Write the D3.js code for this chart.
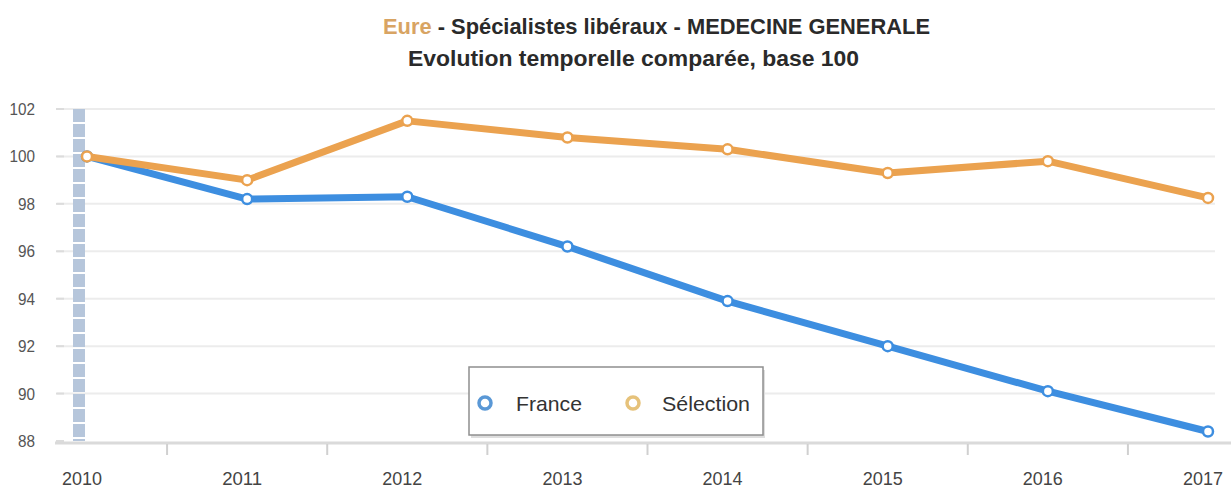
<!DOCTYPE html>
<html><head><meta charset="utf-8">
<script src="https://cdn.jsdelivr.net/npm/d3@7/dist/d3.min.js"></script>
<style>
html,body{margin:0;padding:0;background:#fff;}
svg{display:block;font-family:"Liberation Sans",Arial,sans-serif;}
</style></head>
<body>
<svg id="chart" width="1231" height="495"></svg>
<script>
const years = ["2010","2011","2012","2013","2014","2015","2016","2017"];
const france = [100, 98.2, 98.3, 96.2, 93.9, 92.0, 90.1, 88.4];
const selection = [100, 99.0, 101.5, 100.8, 100.3, 99.3, 99.8, 98.25];
const yTicks = [88, 90, 92, 94, 96, 98, 100, 102];
const seriesNames = ["France", "Sélection"];
const colors = ["#3d8ee0", "#eba24f"];
const titleRegion = "Eure";
const titleRest = " - Spécialistes libéraux - MEDECINE GENERALE";
const subtitle = "Evolution temporelle comparée, base 100";

const svg = d3.select("#chart");
const x = d3.scalePoint().domain(years).range([87, 1208]);
const y = d3.scaleLinear().domain([88, 102]).range([441, 109]);

// grid
svg.append("g").selectAll("line").data(yTicks.filter(d => d !== 88)).join("line")
  .attr("x1", 57).attr("x2", 1215)
  .attr("y1", d => y(d)).attr("y2", d => y(d))
  .attr("stroke", "#ececec").attr("stroke-width", 2);
// y tick marks
svg.append("g").selectAll("line").data(yTicks).join("line")
  .attr("x1", 56).attr("x2", 64)
  .attr("y1", d => y(d)).attr("y2", d => y(d))
  .attr("stroke", "#dcdcdc").attr("stroke-width", 2);
// y labels
svg.append("g").selectAll("text").data(yTicks).join("text")
  .attr("x", 35).attr("y", d => y(d) + 6)
  .attr("text-anchor", "end").attr("font-size", 17).attr("fill", "#555")
  .attr("transform", d => `translate(${35 * 0.1},0) scale(0.9,1)`)
  .text(d => d);

// highlighted band at first category
svg.append("line")
  .attr("x1", x(years[0]) - 8).attr("x2", x(years[0]) - 8)
  .attr("y1", y(102)).attr("y2", y(88))
  .attr("stroke", "#b6c6db").attr("stroke-width", 12)
  .attr("stroke-dasharray", "13,2");

// x axis
svg.append("line").attr("x1", 55).attr("x2", 1231)
  .attr("y1", 443).attr("y2", 443)
  .attr("stroke", "#dadada").attr("stroke-width", 3);
const mids = years.slice(1).map((d, i) => (x(years[i]) + x(d)) / 2);
svg.append("g").selectAll("line").data(mids).join("line")
  .attr("x1", d => d).attr("x2", d => d)
  .attr("y1", 444).attr("y2", 455)
  .attr("stroke", "#d0d0d0").attr("stroke-width", 2);
svg.append("g").selectAll("text").data(years).join("text")
  .attr("x", d => x(d) - 5).attr("y", 485)
  .attr("text-anchor", "middle").attr("font-size", 18).attr("fill", "#444")
  .attr("textLength", 40).attr("lengthAdjust", "spacingAndGlyphs")
  .text(d => d);

// series
const line = d3.line().x((d, i) => x(years[i])).y(d => y(d));
[france, selection].forEach((s, k) => {
  svg.append("path").datum(s).attr("d", line)
    .attr("fill", "none").attr("stroke", colors[k]).attr("stroke-width", 7)
    .attr("stroke-linejoin", "round").attr("stroke-linecap", "round");
  svg.append("g").selectAll("circle").data(s).join("circle")
    .attr("cx", (d, i) => x(years[i])).attr("cy", d => y(d))
    .attr("r", 5).attr("fill", "#fff")
    .attr("stroke", colors[k]).attr("stroke-width", 2.5);
});

// legend
const lg = svg.append("g");
lg.append("rect").attr("x", 471).attr("y", 370).attr("width", 294).attr("height", 68)
  .attr("fill", "#dedede");
lg.append("rect").attr("x", 469).attr("y", 367).attr("width", 294).attr("height", 68)
  .attr("fill", "#fff").attr("stroke", "#8f8f8f").attr("stroke-width", 1.5);
const legX = [485, 633], legT = [516, 662];
seriesNames.forEach((n, k) => {
  lg.append("circle").attr("cx", legX[k]).attr("cy", 403).attr("r", 6)
    .attr("fill", "#fff").attr("stroke", k === 0 ? "#5a98d6" : "#e6c27a").attr("stroke-width", 3.5);
  lg.append("text").attr("x", legT[k]).attr("y", 411).attr("font-size", 21)
    .attr("fill", "#333")
    .attr("textLength", k === 0 ? 66 : 88).attr("lengthAdjust", "spacingAndGlyphs")
    .text(n);
});

// title
const t1 = svg.append("text").attr("x", 383).attr("y", 34)
  .attr("font-size", 22).attr("font-weight", "bold").attr("fill", "#2a2a2a")
  .attr("textLength", 547).attr("lengthAdjust", "spacingAndGlyphs");
t1.append("tspan").attr("fill", "#d8a463").text(titleRegion);
t1.append("tspan").text(titleRest);
svg.append("text").attr("x", 408).attr("y", 66)
  .attr("font-size", 22).attr("font-weight", "bold").attr("fill", "#2a2a2a")
  .attr("textLength", 451).attr("lengthAdjust", "spacingAndGlyphs")
  .text(subtitle);
</script>
</body></html>
